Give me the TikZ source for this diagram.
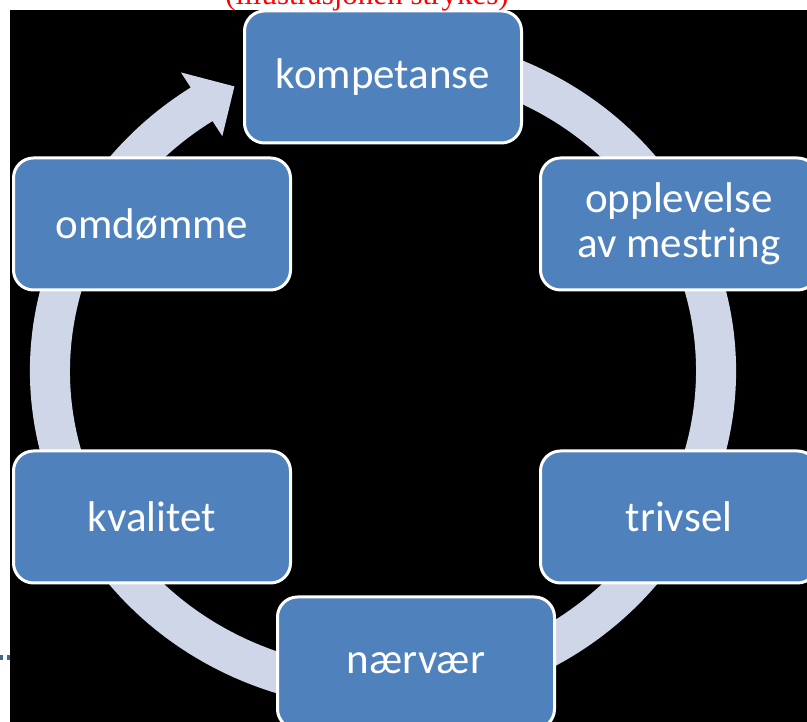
\documentclass[tikz,border=0pt]{standalone}
\usepackage{fontspec}
\setmainfont{Liberation Serif}
\newfontfamily\carlito{Carlito}
\usetikzlibrary{positioning,calc}
\definecolor{boksblaa}{RGB}{79,129,189}
\definecolor{ringfarge}{RGB}{207,214,232}
\definecolor{strekblaa}{RGB}{68,100,150}

\begin{document}
\begin{tikzpicture}[x=1pt, y=1pt,
    boks/.style={rectangle, rounded corners=20pt, fill=boksblaa, draw=white, line width=3pt,
        minimum width=277pt, minimum height=132pt, inner sep=0pt, align=center,
        text=white, font=\carlito\fontsize{43}{45}\selectfont}]
            \useasboundingbox (0,0) rectangle (807,722);
            \clip (0,0) rectangle (807,722);
            \fill[white] (0,0) rectangle (807,722);
            \fill[black] (10,0) rectangle (807,712);
            % ring with arrow head
            \fill[ringfarge] ({383+353*cos(70)},{351+338*sin(70)})
                arc[start angle=70, end angle=-237, x radius=353, y radius=338]
                -- ({383+371*cos(123)},{351+356*sin(123)})
                -- ({383+333*cos(116.5)},{351+318*sin(116.5)})
                -- ({383+295*cos(123)},{351+280*sin(123)})
                -- ({383+313*cos(123)},{351+298*sin(123)})
                arc[start angle=-237, end angle=70, x radius=313, y radius=298] -- cycle;
            \node[boks] (komp) at (383,645) {kompetanse};
            \node[boks] (mestring) at (679,498) {opplevelse\\av mestring};
            \node[boks] (trivsel) at (679,205) {trivsel};
            \node[boks] (naervaer) at (416,59) {nærvær};
            \node[boks] (kvalitet) at (152,205) {kvalitet};
            \node[boks] (omdomme) at (152,498) {omdømme};
            \node[anchor=base, text=red, font=\fontsize{31}{34}\selectfont] (merknad) at (367,717) {(illustrasjonen strykes)};
            \draw[strekblaa, line width=5pt, dash pattern=on 3pt off 4pt] (0,64.5) -- (10,64.5);
        \end{tikzpicture}
\end{document}
